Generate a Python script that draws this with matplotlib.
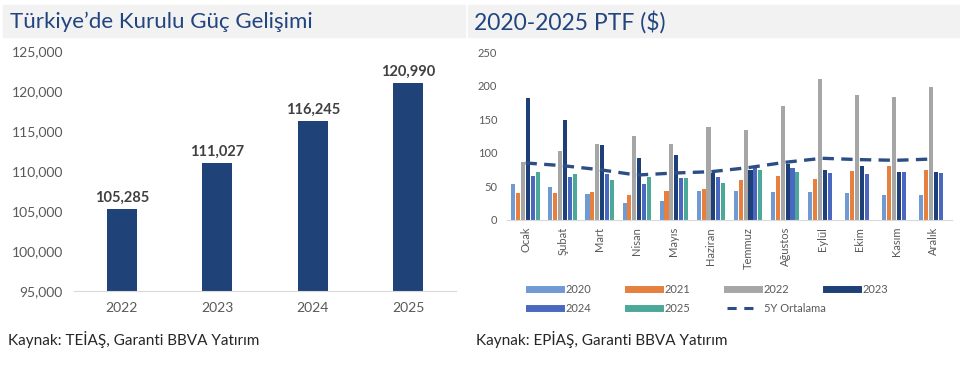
import numpy as np
import matplotlib.pyplot as plt
from matplotlib.lines import Line2D
from matplotlib.patches import Rectangle
from matplotlib.ticker import FuncFormatter

plt.rcParams['font.family'] = ['Lato', 'DejaVu Sans']

# sol grafik: kurulu güç (MW)
years = ["2022", "2023", "2024", "2025"]
capacity = [105285, 111027, 116245, 120990]

# sağ grafik: aylık PTF ($/MWh)
months = ["Ocak", "Şubat", "Mart", "Nisan", "Mayıs", "Haziran",
          "Temmuz", "Ağustos", "Eylül", "Ekim", "Kasım", "Aralık"]
ptf_2020 = [53, 49, 39, 26, 29, 43, 43, 41, 41, 40, 37, 37]
ptf_2021 = [40, 40, 41, 38, 43, 46, 60, 66, 61, 73, 80, 75]
ptf_2022 = [87, 103, 114, 125, 113, 138, 134, 170, 210, 186, 184, 199]
ptf_2023 = [182, 149, 112, 92, 97, 70, 75, 84, 75, 81, 72, 71]
ptf_2024 = [65, 64, 69, 54, 63, 64, 78, 77, 70, 68, 72, 70]
ptf_2025 = [71, 69, 59, 64, 63, 55, 74, 72]
avg_5y = [85, 81, 75, 67, 70, 72, 78, 86, 92, 90, 89, 91]

series = [("2020", ptf_2020, "#7199D2"), ("2021", ptf_2021, "#E5803F"),
          ("2022", ptf_2022, "#A6A6A6"), ("2023", ptf_2023, "#1E4079"),
          ("2024", ptf_2024, "#4A68C0"), ("2025", ptf_2025, "#4CA99A")]

navy = "#1F4279"
title_col = "#22457F"
grey_txt = "#595959"
line_col = "#2D4E84"

fig = plt.figure(figsize=(9.6, 3.68), dpi=100)

# başlık bantları
fig.patches.append(Rectangle((3 / 960, 1 - 37 / 368), 462 / 960, 32 / 368,
                             transform=fig.transFigure, color="#F2F2F2", zorder=0))
fig.patches.append(Rectangle((468 / 960, 1 - 37 / 368), 492 / 960, 32 / 368,
                             transform=fig.transFigure, color="#F2F2F2", zorder=0))
fig.text(10 / 960, 1 - 22 / 368, "Türkiye’de Kurulu Güç Gelişimi", fontsize=16,
         color=title_col, va="center", ha="left")
fig.text(474 / 960, 1 - 22 / 368, "2020-2025 PTF ($)", fontsize=16.5,
         color=title_col, va="center", ha="left")

# sol grafik
ax1 = fig.add_axes([74 / 960, 77 / 368, 382 / 960, 240 / 368])
x1 = np.arange(len(years))
ax1.bar(x1, capacity, width=0.31, color=navy, zorder=2)
for xi, v in zip(x1, capacity):
    ax1.text(xi, v + 500, f"{v:,}", ha="center", va="bottom", fontsize=10.5,
             fontweight="bold", color="#404040")
ax1.set_ylim(95000, 125000)
ax1.set_xlim(-0.5, 3.5)
ax1.set_yticks(np.arange(95000, 125001, 5000))
ax1.yaxis.set_major_formatter(FuncFormatter(lambda v, p: f"{int(v):,}"))
ax1.set_xticks(x1)
ax1.set_xticklabels(years)
for s in ["top", "right", "left"]:
    ax1.spines[s].set_visible(False)
ax1.spines["bottom"].set_color("#D9D9D9")
ax1.tick_params(axis="both", length=0, labelsize=10, labelcolor=grey_txt)
ax1.tick_params(axis="y", pad=8)
ax1.tick_params(axis="x", pad=8)

# sağ grafik
ax2 = fig.add_axes([507 / 960, 148 / 368, 445 / 960, 167.7 / 368])
x2 = np.arange(len(months))
w = 0.11
step = 0.132
for i, (lab, vals, col) in enumerate(series):
    ax2.bar(x2[:len(vals)] + (i - 2.5) * step, vals, width=w, color=col, zorder=2)
ax2.plot(x2, avg_5y, color=line_col, lw=2.4, linestyle=(0, (3.4, 2.2)), zorder=3)
ax2.set_ylim(0, 250)
ax2.set_xlim(-0.5, 11.5)
ax2.set_yticks(np.arange(0, 251, 50))
ax2.set_xticks(x2)
ax2.set_xticklabels(months, rotation=90)
for s in ["top", "right", "left"]:
    ax2.spines[s].set_visible(False)
ax2.spines["bottom"].set_color("#D9D9D9")
ax2.tick_params(axis="both", length=0, labelsize=8, labelcolor=grey_txt)
ax2.tick_params(axis="y", pad=7)
ax2.tick_params(axis="x", pad=5)

# lejant: eşit aralıklı sütunlar için her sütun ayrı lejant
handles = [Line2D([], [], color=c, lw=5) for _, _, c in series]
handles.append(Line2D([], [], color=line_col, lw=2.2, linestyle=(0, (3, 2.5))))
labels = [s[0] for s in series] + ["5Y Ortalama"]
columns = [[0, 4], [1, 5], [2, 6], [3]]
for k, col in enumerate(columns):
    leg = fig.legend([handles[i] for i in col], [labels[i] for i in col],
                     loc="upper left", bbox_to_anchor=((519 + 99 * k) / 960, 1 - 274 / 368),
                     frameon=False, fontsize=8, handlelength=2.9,
                     handletextpad=0.4, labelspacing=0.75, labelcolor=grey_txt)

fig.text(8 / 960, 1 - 340 / 368, "Kaynak: TEİAŞ, Garanti BBVA Yatırım", fontsize=11,
         color="#262626", va="center", ha="left")
fig.text(476 / 960, 1 - 340 / 368, "Kaynak: EPİAŞ, Garanti BBVA Yatırım", fontsize=11,
         color="#262626", va="center", ha="left")

fig.savefig("out.png", dpi=100)
